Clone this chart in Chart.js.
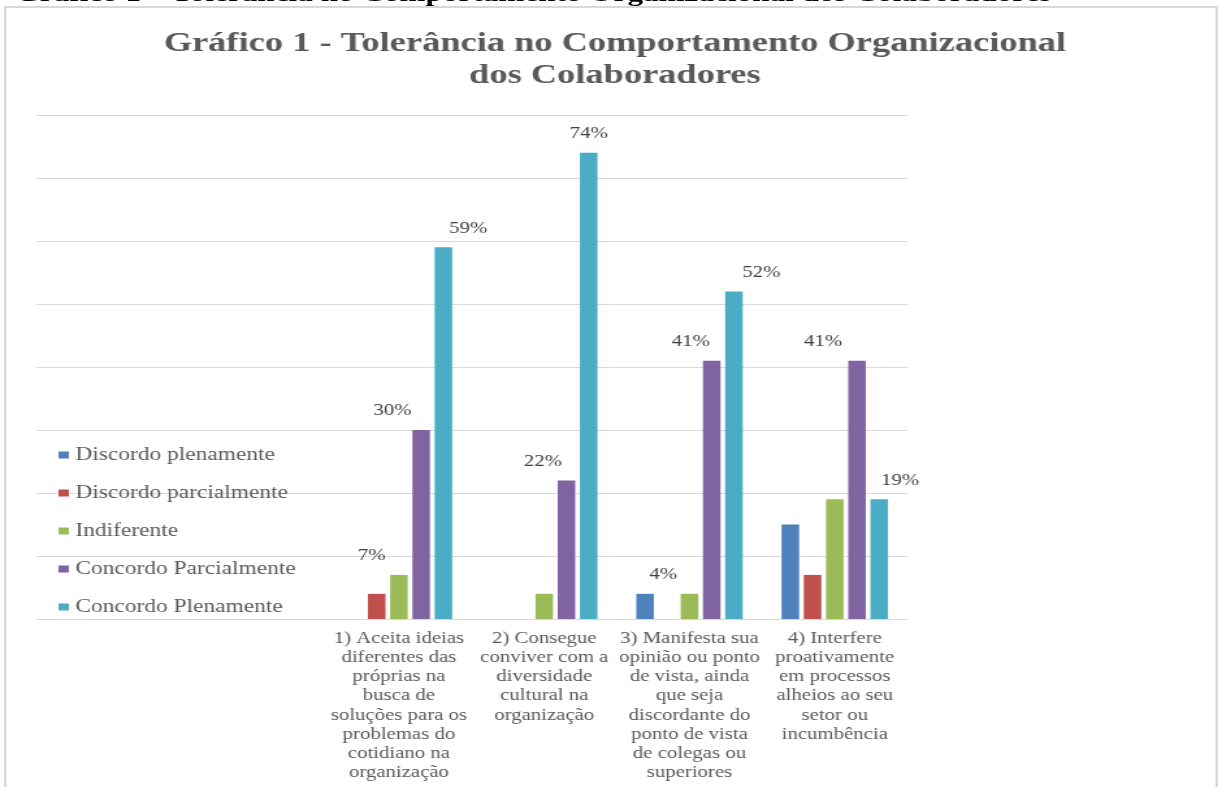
<!DOCTYPE html>
<html lang="pt">
<head>
<meta charset="utf-8">
<title>Gráfico 1 - Tolerância no Comportamento Organizacional dos Colaboradores</title>
<script src="https://cdn.jsdelivr.net/npm/chart.js@4.4.1/dist/chart.umd.min.js"></script>
<style>
  html, body { margin: 0; padding: 0; background: #fff; overflow: hidden; }
  /* the source picture is stretched sideways, so the whole page is too */
  #page { position: absolute; left: 0; top: 0; width: 937px; height: 787px; transform: scaleX(1.3); transform-origin: 0 0; }
  #frame { position: absolute; left: 3px; top: 6px; width: 934px; height: 800px; box-sizing: border-box; border: 2px solid #d9d9d9; }
  #chart { position: absolute; left: 0; top: 0; }
  #heading { position: absolute; left: 12px; top: -19px; font: bold 24px/24px 'Liberation Serif', serif; color: #000; white-space: nowrap; }
</style>
</head>
<body>
<div id="page">
  <div id="frame"></div>
  <canvas id="chart" width="937" height="787"></canvas>
  <div id="heading">Gráfico 1 – Tolerância no Comportamento Organizacional dos Colaboradores</div>
</div>
<script>
const categories = [
    ['1) Aceita ideias', 'diferentes das', 'próprias na', 'busca de', 'soluções para os', 'problemas do', 'cotidiano na', 'organização'],
    ['2) Consegue', 'conviver com a', 'diversidade', 'cultural na', 'organização'],
    ['3) Manifesta sua', 'opinião ou ponto', 'de vista, ainda', 'que seja', 'discordante do', 'ponto de vista', 'de colegas ou', 'superiores'],
    ['4) Interfere', 'proativamente', 'em processos', 'alheios ao seu', 'setor ou', 'incumbência']
];

const seriesNames = ['Discordo plenamente', 'Discordo parcialmente', 'Indiferente', 'Concordo Parcialmente', 'Concordo Plenamente'];

// percentuais
const discordoPlenamente = [0, 0, 4, 15];
const discordoParcialmente = [4, 0, 0, 7];
const indiferente = [7, 4, 4, 19];
const concordoParcialmente = [30, 22, 41, 41];
const concordoPlenamente = [59, 74, 52, 19];

const yTicks = [0, 10, 20, 30, 40, 50, 60, 70, 80];

const colors = ['#4f81bd', '#c0504d', '#9bbb59', '#8064a2', '#4bacc6'];
const seriesValues = [discordoPlenamente, discordoParcialmente, indiferente, concordoParcialmente, concordoPlenamente];

const serif = "'Liberation Serif', 'Times New Roman', serif";
Chart.defaults.font.family = serif;
Chart.defaults.color = '#595959';

// gridlines run under the legend too, from the left edge of the y box
const fullGrid = {
    id: 'fullGrid',
    beforeDatasetsDraw(chart, args, opts) {
        const y = chart.scales.y;
        const ctx = chart.ctx;
        ctx.save();
        ctx.strokeStyle = opts.color;
        ctx.lineWidth = 1;
        y.ticks.forEach(t => {
            const py = Math.round(y.getPixelForValue(t.value)) + 0.5;
            ctx.beginPath();
            ctx.moveTo(y.left, py);
            ctx.lineTo(chart.chartArea.right, py);
            ctx.stroke();
        });
        ctx.restore();
    }
};

// legend drawn inside the plot, lower left
const sideLegend = {
    id: 'sideLegend',
    afterDatasetsDraw(chart, args, opts) {
        const ctx = chart.ctx;
        ctx.save();
        ctx.font = opts.size + 'px ' + serif;
        ctx.textBaseline = 'middle';
        chart.data.datasets.forEach((ds, i) => {
            const y = opts.top + i * opts.step;
            ctx.fillStyle = ds.backgroundColor;
            ctx.fillRect(opts.left, y - 3.5, 8, 7);
            ctx.fillStyle = opts.color;
            ctx.fillText(ds.label, opts.left + 13, y);
        });
        ctx.restore();
    }
};

// only some bars carry a value label, as in the original
const barLabels = {
    id: 'barLabels',
    afterDatasetsDraw(chart, args, opts) {
        const ctx = chart.ctx;
        ctx.save();
        ctx.font = opts.size + 'px ' + serif;
        ctx.fillStyle = opts.color;
        ctx.textAlign = 'center';
        ctx.textBaseline = 'middle';
        opts.items.forEach(it => {
            const bar = chart.getDatasetMeta(it.ds).data[it.i];
            const v = chart.data.datasets[it.ds].data[it.i];
            ctx.fillText(v + '%', bar.x + it.dx, bar.y - 19);
        });
        ctx.restore();
    }
};

new Chart(document.getElementById('chart'), {
    type: 'bar',
    data: {
        labels: categories,
        datasets: seriesNames.map((name, k) => ({
            label: name,
            data: seriesValues[k],
            backgroundColor: colors[k],
            borderWidth: 0,
            categoryPercentage: 0.765,
            barPercentage: 0.79
        }))
    },
    options: {
        responsive: false,
        animation: false,
        layout: { padding: { left: 28, right: 19, top: 0, bottom: 4 } },
        scales: {
            x: {
                grid: { display: false, drawTicks: false },
                border: { display: false },
                ticks: {
                    autoSkip: false,
                    maxRotation: 0,
                    padding: 10,
                    color: '#595959',
                    font: { size: 16, lineHeight: 1.2 }
                },
                afterFit(scale) { scale.height = 164; }
            },
            y: {
                min: yTicks[0],
                max: yTicks[yTicks.length - 1],
                ticks: { display: false, stepSize: yTicks[1] - yTicks[0] },
                grid: { display: false },
                border: { display: false },
                afterFit(scale) { scale.width = 223; }
            },
            yRight: {
                type: 'linear',
                position: 'right',
                ticks: { display: false },
                grid: { display: false },
                border: { display: false },
                afterFit(scale) { scale.width = 220; }
            }
        },
        plugins: {
            legend: { display: false },
            tooltip: { enabled: false },
            title: {
                display: true,
                text: ['Gráfico 1 - Tolerância no Comportamento Organizacional', 'dos Colaboradores'],
                color: '#595959',
                font: { size: 28, weight: 'bold', lineHeight: 1.143 },
                padding: { top: 28, bottom: 23 }
            },
            fullGrid: { color: '#d9d9d9' },
            sideLegend: { left: 45, top: 455, step: 38, size: 18, color: '#595959' },
            barLabels: {
                size: 16,
                color: '#404040',
                items: [
                    { ds: 2, i: 0, dx: -21 }, { ds: 3, i: 0, dx: -22 }, { ds: 4, i: 0, dx: 19 },
                    { ds: 3, i: 1, dx: -18 }, { ds: 4, i: 1, dx: 0 },
                    { ds: 0, i: 2, dx: 14 }, { ds: 3, i: 2, dx: -16 }, { ds: 4, i: 2, dx: 21 },
                    { ds: 3, i: 3, dx: -26 }, { ds: 4, i: 3, dx: 16 }
                ]
            }
        }
    },
    plugins: [fullGrid, sideLegend, barLabels]
});
</script>
</body>
</html>
